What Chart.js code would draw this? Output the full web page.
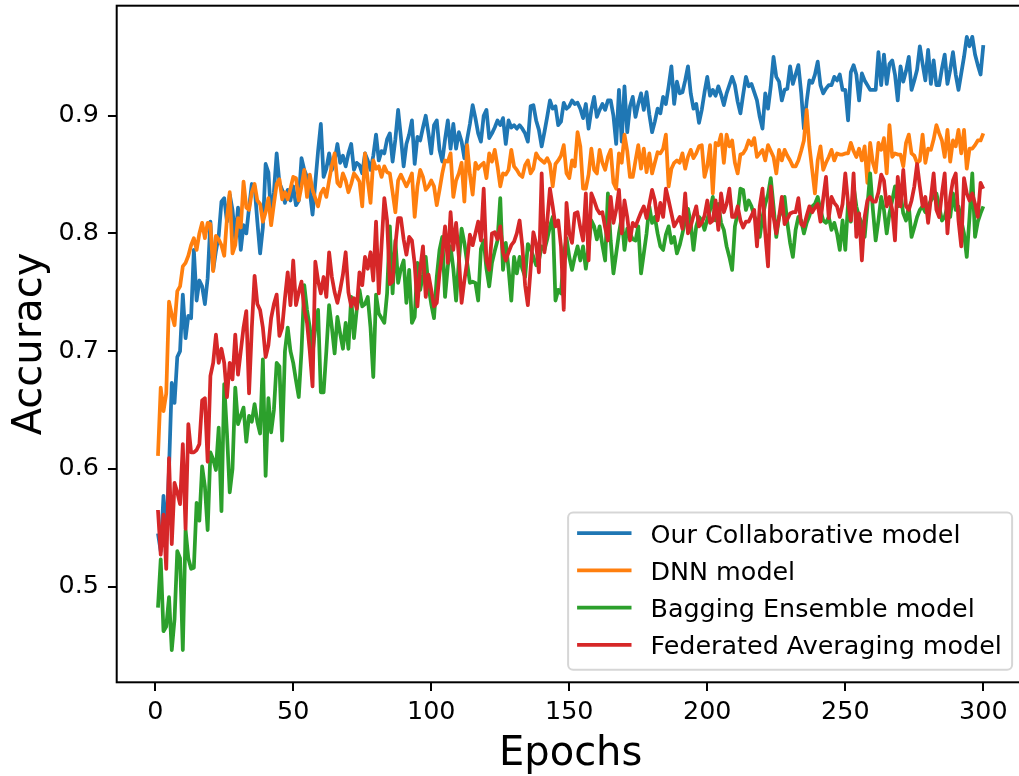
<!DOCTYPE html>
<html>
<head>
<meta charset="utf-8">
<title>Accuracy vs Epochs</title>
<script src="https://cdn.jsdelivr.net/npm/chart.js@4.4.0/dist/chart.umd.min.js"></script>
<style>
    html, body { margin: 0; padding: 0; background: #fff; overflow: hidden; }
    #wrap { position: absolute; left: 0; top: 0; width: 1030px; height: 776px; }
    canvas { display: block; }
</style>
</head>
<body>
<div id="wrap"><canvas id="accuracyChart" width="1030" height="776"></canvas></div>
<script>
// Epoch axis and tick labels
const epochs = Array.from({ length: 300 }, (_, i) => i + 1);
const xTicks = [0, 50, 100, 150, 200, 250, 300];
const yTicks = [0.5, 0.6, 0.7, 0.8, 0.9];

const seriesNames = ['Our Collaborative model', 'DNN model', 'Bagging Ensemble model', 'Federated Averaging model'];
const seriesColors = ['#1f77b4', '#ff7f0e', '#2ca02c', '#d62728'];

// Accuracy per epoch
const collaborative = [
    0.545, 0.530, 0.577, 0.539, 0.600, 0.673, 0.656, 0.695, 0.700, 0.748,
    0.711, 0.730, 0.728, 0.786, 0.743, 0.760, 0.755, 0.740, 0.762, 0.810,
    0.769, 0.785, 0.798, 0.827, 0.830, 0.810, 0.833, 0.820, 0.795, 0.822,
    0.786, 0.807, 0.800, 0.822, 0.842, 0.840, 0.810, 0.783, 0.805, 0.859,
    0.852, 0.813, 0.835, 0.868, 0.843, 0.837, 0.826, 0.837, 0.828, 0.840,
    0.824, 0.828, 0.864, 0.854, 0.848, 0.836, 0.816, 0.843, 0.870, 0.893,
    0.848, 0.855, 0.868, 0.854, 0.862, 0.876, 0.860, 0.866, 0.857, 0.868,
    0.876, 0.854, 0.860, 0.858, 0.851, 0.868, 0.862, 0.854, 0.866, 0.884,
    0.862, 0.870, 0.868, 0.880, 0.885, 0.861, 0.880, 0.905, 0.882, 0.857,
    0.876, 0.884, 0.896, 0.859, 0.882, 0.879, 0.890, 0.900, 0.885, 0.868,
    0.892, 0.896, 0.871, 0.861, 0.880, 0.896, 0.872, 0.893, 0.872, 0.886,
    0.878, 0.864, 0.880, 0.893, 0.909, 0.898, 0.885, 0.878, 0.900, 0.905,
    0.881, 0.885, 0.890, 0.896, 0.892, 0.898, 0.876, 0.896, 0.890, 0.892,
    0.889, 0.892, 0.889, 0.885, 0.878, 0.908, 0.909, 0.896, 0.888, 0.874,
    0.886, 0.899, 0.913, 0.906, 0.908, 0.892, 0.895, 0.911, 0.906, 0.908,
    0.913, 0.910, 0.911, 0.906, 0.898, 0.910, 0.889, 0.905, 0.916, 0.899,
    0.905, 0.910, 0.905, 0.913, 0.913, 0.900, 0.876, 0.922, 0.878, 0.925,
    0.886, 0.908, 0.916, 0.899, 0.910, 0.919, 0.905, 0.920, 0.901, 0.886,
    0.895, 0.906, 0.902, 0.916, 0.910, 0.925, 0.942, 0.910, 0.929, 0.919,
    0.920, 0.930, 0.942, 0.919, 0.906, 0.910, 0.894, 0.905, 0.920, 0.933,
    0.917, 0.922, 0.917, 0.925, 0.918, 0.909, 0.919, 0.926, 0.933, 0.926,
    0.912, 0.902, 0.918, 0.933, 0.925, 0.927, 0.920, 0.913, 0.899, 0.889,
    0.919, 0.906, 0.925, 0.950, 0.933, 0.929, 0.913, 0.922, 0.923, 0.942,
    0.927, 0.935, 0.943, 0.920, 0.889, 0.912, 0.930, 0.928, 0.935, 0.946,
    0.926, 0.919, 0.923, 0.926, 0.926, 0.933, 0.930, 0.935, 0.922, 0.922,
    0.896, 0.937, 0.943, 0.935, 0.913, 0.936, 0.930, 0.926, 0.922, 0.922,
    0.922, 0.954, 0.926, 0.952, 0.927, 0.944, 0.947, 0.935, 0.913, 0.942,
    0.929, 0.938, 0.950, 0.922, 0.930, 0.939, 0.959, 0.944, 0.930, 0.956,
    0.927, 0.947, 0.926, 0.926, 0.940, 0.952, 0.927, 0.939, 0.954, 0.935,
    0.922, 0.936, 0.950, 0.967, 0.959, 0.967, 0.952, 0.943, 0.935, 0.960
];

const dnn = [
    0.611, 0.669, 0.649, 0.664, 0.742, 0.731, 0.722, 0.751, 0.755, 0.772,
    0.775, 0.781, 0.790, 0.796, 0.786, 0.800, 0.809, 0.796, 0.809, 0.808,
    0.768, 0.798, 0.795, 0.790, 0.781, 0.813, 0.835, 0.783, 0.790, 0.813,
    0.805, 0.844, 0.822, 0.820, 0.835, 0.842, 0.828, 0.825, 0.810, 0.818,
    0.830, 0.807, 0.825, 0.842, 0.846, 0.829, 0.835, 0.829, 0.838, 0.848,
    0.847, 0.828, 0.840, 0.854, 0.831, 0.850, 0.837, 0.830, 0.823, 0.834,
    0.838, 0.831, 0.845, 0.858, 0.868, 0.843, 0.840, 0.851, 0.845, 0.835,
    0.842, 0.851, 0.848, 0.844, 0.823, 0.868, 0.845, 0.826, 0.862, 0.855,
    0.857, 0.848, 0.857, 0.852, 0.851, 0.835, 0.818, 0.845, 0.850, 0.845,
    0.840, 0.845, 0.851, 0.814, 0.840, 0.854, 0.848, 0.837, 0.840, 0.845,
    0.840, 0.824, 0.837, 0.851, 0.862, 0.861, 0.868, 0.831, 0.845, 0.851,
    0.860, 0.827, 0.875, 0.850, 0.833, 0.860, 0.855, 0.858, 0.860, 0.847,
    0.868, 0.861, 0.871, 0.857, 0.840, 0.851, 0.850, 0.854, 0.871, 0.857,
    0.854, 0.850, 0.848, 0.858, 0.862, 0.851, 0.855, 0.868, 0.864, 0.862,
    0.860, 0.864, 0.859, 0.840, 0.859, 0.862, 0.866, 0.875, 0.851, 0.847,
    0.862, 0.857, 0.886, 0.874, 0.838, 0.838, 0.850, 0.872, 0.854, 0.851,
    0.871, 0.860, 0.854, 0.865, 0.871, 0.843, 0.838, 0.868, 0.860, 0.884,
    0.870, 0.848, 0.848, 0.862, 0.875, 0.855, 0.872, 0.852, 0.868, 0.851,
    0.860, 0.869, 0.868, 0.872, 0.884, 0.840, 0.855, 0.860, 0.862, 0.860,
    0.868, 0.855, 0.865, 0.871, 0.864, 0.868, 0.874, 0.875, 0.848, 0.857,
    0.875, 0.834, 0.877, 0.875, 0.884, 0.860, 0.884, 0.874, 0.879, 0.860,
    0.851, 0.867, 0.868, 0.872, 0.879, 0.875, 0.881, 0.865, 0.868, 0.871,
    0.862, 0.875, 0.870, 0.865, 0.851, 0.871, 0.862, 0.871, 0.866, 0.862,
    0.857, 0.857, 0.862, 0.870, 0.879, 0.905, 0.874, 0.854, 0.834, 0.862,
    0.874, 0.854, 0.860, 0.865, 0.871, 0.862, 0.868, 0.867, 0.867, 0.868,
    0.868, 0.877, 0.870, 0.865, 0.872, 0.862, 0.874, 0.843, 0.877, 0.860,
    0.852, 0.877, 0.871, 0.881, 0.851, 0.892, 0.865, 0.868, 0.867, 0.867,
    0.857, 0.877, 0.884, 0.868, 0.866, 0.860, 0.862, 0.884, 0.860, 0.872,
    0.871, 0.880, 0.892, 0.885, 0.879, 0.865, 0.888, 0.861, 0.879, 0.874,
    0.888, 0.868, 0.888, 0.855, 0.872, 0.872, 0.875, 0.879, 0.879, 0.885
];

const bagging = [
    0.482, 0.523, 0.462, 0.466, 0.491, 0.446, 0.472, 0.530, 0.524, 0.446,
    0.548, 0.524, 0.515, 0.516, 0.571, 0.556, 0.602, 0.585, 0.548, 0.614,
    0.608, 0.599, 0.635, 0.564, 0.672, 0.630, 0.580, 0.600, 0.669, 0.638,
    0.645, 0.652, 0.623, 0.645, 0.640, 0.655, 0.640, 0.630, 0.693, 0.594,
    0.660, 0.631, 0.650, 0.690, 0.687, 0.624, 0.700, 0.720, 0.700, 0.690,
    0.675, 0.661, 0.700, 0.756, 0.735, 0.720, 0.698, 0.720, 0.735, 0.665,
    0.665, 0.700, 0.739, 0.720, 0.698, 0.729, 0.715, 0.702, 0.724, 0.702,
    0.746, 0.711, 0.735, 0.752, 0.738, 0.740, 0.746, 0.720, 0.678, 0.748,
    0.732, 0.728, 0.724, 0.749, 0.806, 0.749, 0.794, 0.758, 0.770, 0.777,
    0.741, 0.769, 0.724, 0.729, 0.775, 0.752, 0.765, 0.780, 0.755, 0.740,
    0.728, 0.763, 0.786, 0.797, 0.746, 0.772, 0.789, 0.770, 0.743, 0.776,
    0.804, 0.792, 0.775, 0.758, 0.759, 0.758, 0.743, 0.787, 0.794, 0.770,
    0.755, 0.775, 0.785, 0.794, 0.830, 0.769, 0.792, 0.770, 0.743, 0.780,
    0.766, 0.780, 0.770, 0.763, 0.791, 0.787, 0.780, 0.773, 0.777, 0.789,
    0.786, 0.795, 0.806, 0.814, 0.743, 0.752, 0.749, 0.782, 0.796, 0.780,
    0.769, 0.780, 0.789, 0.777, 0.789, 0.770, 0.789, 0.811, 0.806, 0.795,
    0.806, 0.790, 0.777, 0.834, 0.794, 0.766, 0.783, 0.800, 0.814, 0.786,
    0.804, 0.800, 0.795, 0.794, 0.806, 0.766, 0.783, 0.800, 0.823, 0.809,
    0.814, 0.800, 0.789, 0.786, 0.799, 0.806, 0.792, 0.797, 0.783, 0.790,
    0.800, 0.811, 0.821, 0.809, 0.786, 0.806, 0.814, 0.811, 0.803, 0.812,
    0.820, 0.831, 0.811, 0.825, 0.809, 0.803, 0.789, 0.780, 0.769, 0.806,
    0.817, 0.838, 0.837, 0.820, 0.828, 0.823, 0.815, 0.809, 0.797, 0.814,
    0.825, 0.833, 0.847, 0.823, 0.797, 0.814, 0.820, 0.831, 0.809, 0.792,
    0.780, 0.803, 0.814, 0.811, 0.800, 0.809, 0.815, 0.823, 0.825, 0.831,
    0.820, 0.811, 0.809, 0.814, 0.803, 0.809, 0.800, 0.786, 0.811, 0.786,
    0.826, 0.810, 0.840, 0.823, 0.814, 0.809, 0.797, 0.823, 0.851, 0.820,
    0.794, 0.811, 0.831, 0.820, 0.800, 0.817, 0.828, 0.840, 0.823, 0.834,
    0.817, 0.811, 0.823, 0.797, 0.805, 0.814, 0.820, 0.823, 0.818, 0.823,
    0.828, 0.831, 0.834, 0.823, 0.811, 0.814, 0.823, 0.814, 0.834, 0.820,
    0.823, 0.811, 0.800, 0.780, 0.814, 0.851, 0.797, 0.810, 0.817, 0.823
];

const fedAvg = [
    0.565, 0.527, 0.561, 0.515, 0.609, 0.536, 0.588, 0.580, 0.570, 0.621,
    0.549, 0.638, 0.614, 0.614, 0.616, 0.621, 0.658, 0.660, 0.606, 0.679,
    0.690, 0.714, 0.690, 0.702, 0.690, 0.661, 0.690, 0.676, 0.714, 0.680,
    0.700, 0.720, 0.734, 0.664, 0.720, 0.764, 0.740, 0.735, 0.720, 0.695,
    0.705, 0.728, 0.740, 0.748, 0.713, 0.720, 0.745, 0.767, 0.739, 0.777,
    0.739, 0.750, 0.759, 0.735, 0.724, 0.700, 0.670, 0.776, 0.760, 0.749,
    0.763, 0.746, 0.784, 0.763, 0.750, 0.741, 0.752, 0.765, 0.784, 0.750,
    0.738, 0.745, 0.736, 0.767, 0.756, 0.780, 0.770, 0.784, 0.760, 0.810,
    0.749, 0.790, 0.830, 0.811, 0.757, 0.759, 0.790, 0.813, 0.813, 0.795,
    0.782, 0.797, 0.794, 0.774, 0.738, 0.770, 0.789, 0.746, 0.765, 0.752,
    0.738, 0.741, 0.766, 0.783, 0.806, 0.775, 0.818, 0.786, 0.809, 0.780,
    0.741, 0.760, 0.776, 0.799, 0.790, 0.800, 0.810, 0.794, 0.838, 0.777,
    0.769, 0.800, 0.801, 0.795, 0.806, 0.784, 0.777, 0.784, 0.790, 0.793,
    0.800, 0.811, 0.789, 0.756, 0.739, 0.770, 0.801, 0.791, 0.767, 0.851,
    0.784, 0.810, 0.838, 0.823, 0.806, 0.811, 0.789, 0.735, 0.826, 0.800,
    0.792, 0.817, 0.818, 0.805, 0.794, 0.834, 0.777, 0.834, 0.828, 0.821,
    0.817, 0.818, 0.805, 0.794, 0.831, 0.809, 0.820, 0.837, 0.800, 0.828,
    0.814, 0.794, 0.809, 0.806, 0.812, 0.818, 0.823, 0.813, 0.825, 0.837,
    0.828, 0.811, 0.826, 0.814, 0.838, 0.828, 0.817, 0.806, 0.810, 0.814,
    0.804, 0.834, 0.800, 0.806, 0.815, 0.823, 0.806, 0.809, 0.815, 0.828,
    0.809, 0.811, 0.828, 0.803, 0.834, 0.818, 0.825, 0.838, 0.814, 0.814,
    0.823, 0.811, 0.805, 0.810, 0.810, 0.815, 0.820, 0.789, 0.823, 0.838,
    0.800, 0.772, 0.840, 0.814, 0.800, 0.814, 0.831, 0.808, 0.812, 0.817,
    0.818, 0.818, 0.830, 0.808, 0.806, 0.815, 0.823, 0.818, 0.822, 0.825,
    0.810, 0.830, 0.848, 0.813, 0.831, 0.826, 0.823, 0.814, 0.825, 0.851,
    0.826, 0.811, 0.851, 0.797, 0.817, 0.777, 0.814, 0.828, 0.831, 0.827,
    0.827, 0.835, 0.850, 0.845, 0.823, 0.831, 0.820, 0.794, 0.848, 0.823,
    0.854, 0.823, 0.820, 0.828, 0.840, 0.859, 0.840, 0.823, 0.831, 0.809,
    0.830, 0.851, 0.820, 0.814, 0.834, 0.851, 0.800, 0.831, 0.845, 0.851,
    0.811, 0.789, 0.847, 0.834, 0.828, 0.834, 0.825, 0.814, 0.843, 0.838
];

Chart.defaults.font.family = '"DejaVu Sans", sans-serif';
Chart.defaults.color = '#000';

// Four spines round the plot area (Chart.js only draws the axis lines)
const framePlugin = {
    id: 'frame',
    afterDatasetsDraw(chart) {
        const { ctx, chartArea: a } = chart;
        ctx.save();
        ctx.strokeStyle = '#000';
        ctx.lineWidth = 2;
        ctx.strokeRect(a.left, a.top, a.right - a.left, a.bottom - a.top);
        ctx.restore();
    }
};

// Matplotlib-like legend box in the lower right corner
const boxLegendPlugin = {
    id: 'boxLegend',
    afterDraw(chart) {
        const { ctx, chartArea: a } = chart;
        const w = 444, h = 157.3, pad = 12.5;
        const x = a.right - pad - w;
        const y = a.bottom - pad - h;
        ctx.save();
        ctx.beginPath();
        ctx.roundRect(x, y, w, h, 5);
        ctx.fillStyle = 'rgba(255,255,255,0.8)';
        ctx.fill();
        ctx.strokeStyle = 'rgba(204,204,204,0.8)';
        ctx.lineWidth = 2;
        ctx.stroke();
        ctx.font = '25.4px "DejaVu Sans"';
        ctx.textBaseline = 'alphabetic';
        chart.data.datasets.forEach((ds, i) => {
            const rowY = y + 20.6 + i * 37.25;
            ctx.strokeStyle = ds.borderColor;
            ctx.lineWidth = 3.75;
            ctx.beginPath();
            ctx.moveTo(x + 9, rowY);
            ctx.lineTo(x + 63.4, rowY);
            ctx.stroke();
            ctx.fillStyle = '#000';
            ctx.fillText(ds.label, x + 82.4, rowY + 9.6);
        });
        ctx.restore();
    }
};

const tickFont = { family: '"DejaVu Sans"', size: 25.4 };
const titleFont = { family: '"DejaVu Sans"', size: 40 };

function makeDataset(values, idx) {
    return {
        label: seriesNames[idx],
        data: epochs.map((e, i) => ({ x: e, y: values[i] })),
        borderColor: seriesColors[idx],
        backgroundColor: seriesColors[idx],
        borderWidth: 3.75,
        borderJoinStyle: 'round',
        pointRadius: 0,
        tension: 0,
        fill: false,
        order: 3 - idx
    };
}

const ctx = document.getElementById('accuracyChart');
const accuracyChart = new Chart(ctx, {
    type: 'line',
    data: {
        datasets: [collaborative, dnn, bagging, fedAvg].map(makeDataset)
    },
    options: {
        responsive: false,
        animation: false,
        devicePixelRatio: 1,
        layout: { padding: { left: 0, top: 5.7, right: 5.4, bottom: 0 } },
        plugins: {
            legend: { display: false },
            tooltip: { enabled: false }
        },
        scales: {
            x: {
                type: 'linear',
                min: -13.95,
                max: 314.95,
                afterBuildTicks: s => { s.ticks = xTicks.map(v => ({ value: v })); },
                afterFit: s => { s.height = 93.7; s.paddingLeft = 0; s.paddingRight = 0; },
                ticks: {
                    font: tickFont,
                    color: '#000',
                    padding: 5.8,
                    maxRotation: 0,
                    autoSkip: false,
                    callback: v => String(v)
                },
                grid: { drawOnChartArea: false, drawTicks: true, tickLength: 8.75, color: '#000', lineWidth: 2 },
                border: { display: false },
                title: { display: true, text: 'Epochs', color: '#000', font: { ...titleFont, lineHeight: 1 }, padding: { top: 0, bottom: 1 } }
            },
            y: {
                type: 'linear',
                min: 0.4186,
                max: 0.9935,
                afterBuildTicks: s => { s.ticks = yTicks.map(v => ({ value: v })); },
                afterFit: s => { s.width = 116.7; s.paddingTop = 0; s.paddingBottom = 0; },
                ticks: {
                    font: tickFont,
                    color: '#000',
                    padding: 8.95,
                    autoSkip: false,
                    callback: v => v.toFixed(1)
                },
                grid: { drawOnChartArea: false, drawTicks: true, tickLength: 8.75, color: '#000', lineWidth: 2 },
                border: { display: false },
                title: { display: true, text: 'Accuracy', color: '#000', font: titleFont, padding: { top: 6.6, bottom: 0 } }
            }
        }
    },
    plugins: [framePlugin, boxLegendPlugin]
});
</script>
</body>
</html>
